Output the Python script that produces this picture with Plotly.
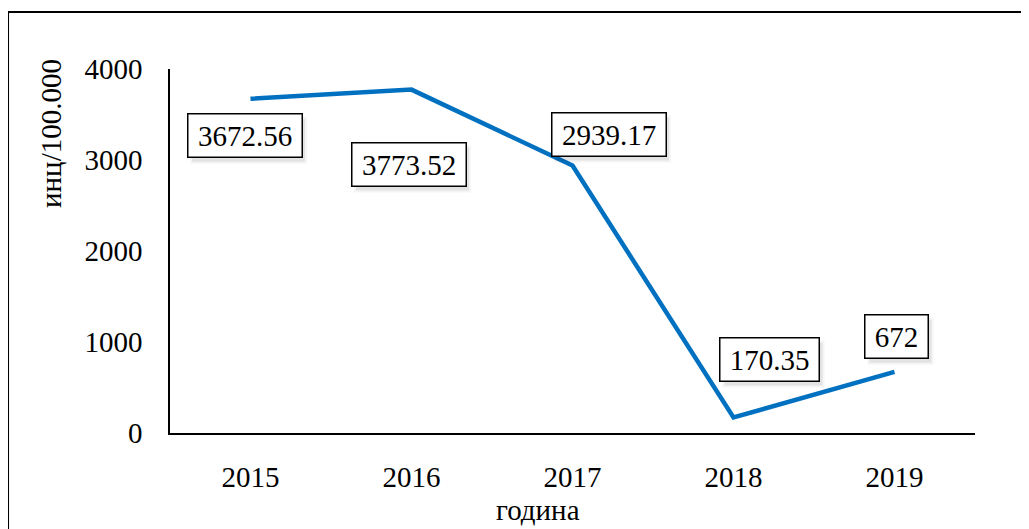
import plotly.graph_objects as go

years = ["2015", "2016", "2017", "2018", "2019"]
values = [3672.56, 3773.52, 2939.17, 170.35, 672]
labels = ["3672.56", "3773.52", "2939.17", "170.35", "672"]
y_ticks = [0, 1000, 2000, 3000, 4000]

# label offsets in pixels, (right, down) from the point (style, not data)
offsets = [(-6, 37), (-3, 75), (36, -31), (36, -58), (2, -35)]

FONT = "Liberation Serif, Times New Roman, serif"
FS = 29
BOX_H = 42

fig = go.Figure()
fig.add_trace(go.Scatter(
    x=years, y=values, mode="lines",
    line=dict(color="#0070C0", width=4.5),
    hoverinfo="skip", showlegend=False,
))

annotations = []
shapes = [dict(
    type="rect", xref="paper", yref="paper",
    x0=-0.2012, x1=1.08, y0=-0.30, y1=1.1566,
    line=dict(color="black", width=2), fillcolor="rgba(0,0,0,0)",
    layer="below",
)]
for i, (y, t, (dx, dy)) in enumerate(zip(values, labels, offsets)):
    tw = len(t.replace(".", "")) * FS * 0.5 + (FS * 0.25 if "." in t else 0)
    w = int(tw) + 17
    # soft shadow (pixel-sized shapes anchored at the data point)
    for k, a in ((5, 0.04), (3, 0.07)):
        shapes.append(dict(
            type="rect", xref="x", yref="y",
            xsizemode="pixel", ysizemode="pixel",
            xanchor=i, yanchor=y,
            x0=dx + 3 - w / 2 - k + 3, x1=dx + 3 + w / 2 + k - 1,
            y0=-dy - 4 - BOX_H / 2 - k + 2, y1=-dy - 4 + BOX_H / 2 + k - 3,
            line=dict(width=0), fillcolor=f"rgba(0,0,0,{a})",
            layer="above",
        ))
    annotations.append(dict(
        x=i, y=y, xref="x", yref="y", text=t, showarrow=False,
        xshift=dx, yshift=-dy,
        font=dict(family=FONT, size=FS, color="black"),
        bgcolor="white", bordercolor="black", borderwidth=1.5,
        borderpad=1, width=w, height=BOX_H - 2,
    ))

annotations.append(dict(
    x=-0.148, y=0.824, xref="paper", yref="paper", text="инц/100.000",
    textangle=-90, showarrow=False, xanchor="center", yanchor="middle",
    font=dict(family=FONT, size=FS, color="black"),
))
annotations.append(dict(
    x=0.457, y=-0.212, xref="paper", yref="paper", text="година",
    showarrow=False, xanchor="center", yanchor="middle",
    font=dict(family=FONT, size=FS, color="black"),
))

fig.update_layout(
    width=1021, height=521,
    margin=dict(l=162, r=54, t=61, b=96, autoexpand=False),
    paper_bgcolor="white", plot_bgcolor="white",
    font=dict(family=FONT, size=FS, color="black"),
    annotations=annotations,
    shapes=shapes,
    xaxis=dict(
        type="category", range=[-0.5, 4.5],
        showline=True, linecolor="black", linewidth=1.5,
        showgrid=False, zeroline=False, ticks="",
        ticklabelstandoff=17, automargin=False,
        tickfont=dict(family=FONT, size=FS, color="black"),
    ),
    yaxis=dict(
        range=[0, 4000], tickvals=y_ticks,
        showline=True, linecolor="black", linewidth=1.5,
        showgrid=False, zeroline=False, ticks="",
        ticklabelstandoff=20, automargin=False,
        tickfont=dict(family=FONT, size=FS, color="black"),
    ),
)

fig.write_html("out.html")
